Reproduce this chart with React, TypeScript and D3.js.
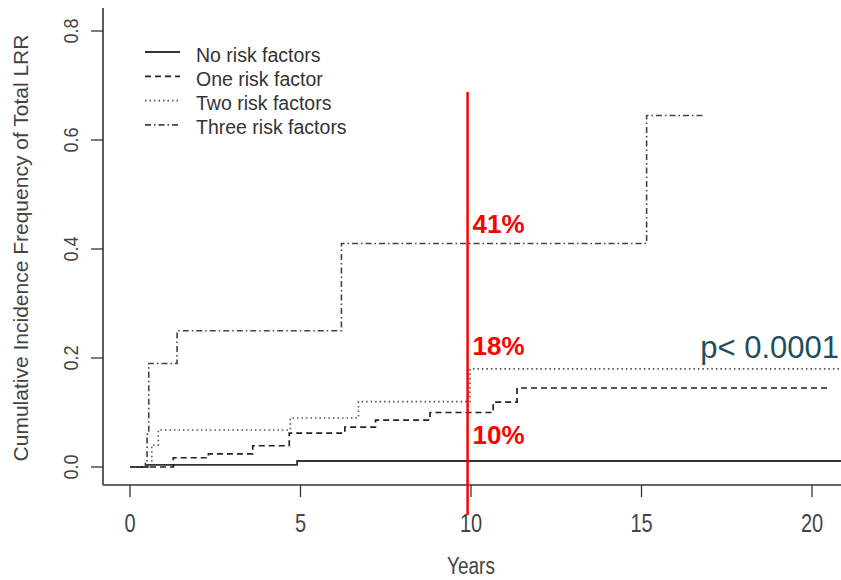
import * as d3 from "d3";
import React, { useRef, useEffect } from "react";

// step curves: [year, cumulative incidence]
const noRisk: [number, number][] = [
  [0, 0], [0.5, 0.004], [4.9, 0.011], [20.85, 0.011],
];
const oneRisk: [number, number][] = [
  [0, 0], [1.27, 0.017], [2.3, 0.024], [3.6, 0.039], [4.67, 0.062],
  [6.3, 0.073], [7.2, 0.086], [8.8, 0.1], [10.65, 0.119], [11.35, 0.145], [20.5, 0.145],
];
const twoRisk: [number, number][] = [
  [0, 0], [0.64, 0.04], [0.83, 0.068], [4.7, 0.09], [6.7, 0.12], [9.97, 0.18], [20.85, 0.18],
];
const threeRisk: [number, number][] = [
  [0, 0], [0.45, 0.01], [0.5, 0.06], [0.55, 0.19], [1.38, 0.25],
  [6.2, 0.41], [15.15, 0.645], [16.85, 0.645],
];

const legendLabels = ["No risk factors", "One risk factor", "Two risk factors", "Three risk factors"];
const xTicks = [0, 5, 10, 15, 20];
const yTicks = [0, 0.2, 0.4, 0.6, 0.8];
const cutoffYear = 9.9;
const cutoffLabels = ["41%", "18%", "10%"];

const App = () => {
  const ref = useRef<SVGSVGElement>(null);

  useEffect(() => {
    if (!ref.current) return;
    const W = 841;
    const H = 580;
    const svg = d3.select(ref.current).attr("width", W).attr("height", H);
    svg.selectAll("*").remove();

    const x = d3.scaleLinear().domain([0, 20]).range([130, 812]);
    const y = d3.scaleLinear().domain([0, 0.8]).range([467, 31]);
    const axisLeft = 103;
    const axisBottom = 485;
    const font = "Liberation Sans, Arial, sans-serif";
    const axisColor = "#444";

    // axis frame (L-shaped)
    svg.append("line")
      .attr("x1", axisLeft).attr("x2", axisLeft)
      .attr("y1", 8).attr("y2", axisBottom)
      .attr("stroke", "#333").attr("stroke-width", 1.6);
    svg.append("line")
      .attr("x1", axisLeft).attr("x2", W)
      .attr("y1", axisBottom).attr("y2", axisBottom)
      .attr("stroke", "#666").attr("stroke-width", 2);

    // y ticks
    yTicks.forEach((t) => {
      svg.append("line")
        .attr("x1", axisLeft - 12).attr("x2", axisLeft)
        .attr("y1", y(t)).attr("y2", y(t))
        .attr("stroke", "#333").attr("stroke-width", 1.3);
      svg.append("text")
        .attr("transform", `translate(78,${y(t)}) rotate(-90) scale(0.95,1.1)`)
        .attr("text-anchor", "middle")
        .attr("font-family", font)
        .attr("font-size", 19)
        .attr("fill", axisColor)
        .text(t.toFixed(1));
    });

    // x ticks (text is a bit tall and narrow in the original)
    xTicks.forEach((t) => {
      svg.append("line")
        .attr("x1", x(t)).attr("x2", x(t))
        .attr("y1", axisBottom).attr("y2", axisBottom + 12)
        .attr("stroke", "#333").attr("stroke-width", 1.3);
      svg.append("text")
        .attr("transform", `translate(${x(t)},532) scale(1,1.25)`)
        .attr("text-anchor", "middle")
        .attr("font-family", font)
        .attr("font-size", 20)
        .attr("fill", axisColor)
        .text(t);
    });

    // axis titles
    svg.append("text")
      .attr("transform", "translate(471,574) scale(1,1.22)")
      .attr("text-anchor", "middle")
      .attr("font-family", font)
      .attr("font-size", 19)
      .attr("fill", axisColor)
      .text("Years");
    svg.append("text")
      .attr("transform", "translate(28,248) rotate(-90)")
      .attr("text-anchor", "middle")
      .attr("font-family", font)
      .attr("font-size", 21)
      .attr("fill", axisColor)
      .text("Cumulative Incidence Frequency of Total LRR");

    const line = d3.line<[number, number]>()
      .x((d) => x(d[0]))
      .y((d) => y(d[1]))
      .curve(d3.curveStepAfter);

    const series = [
      { data: noRisk, color: "#333", width: 1.8, dash: null },
      { data: oneRisk, color: "#222", width: 1.7, dash: "6,4" },
      { data: twoRisk, color: "#555", width: 1.6, dash: "1.5,3" },
      { data: threeRisk, color: "#444", width: 1.6, dash: "6,3,1.5,3" },
    ];

    series.forEach((s) => {
      svg.append("path")
        .datum(s.data)
        .attr("fill", "none")
        .attr("stroke", s.color)
        .attr("stroke-width", s.width)
        .attr("stroke-dasharray", s.dash)
        .attr("d", line);
    });

    // legend
    const legend = svg.selectAll(".legend")
      .data(legendLabels)
      .enter()
      .append("g")
      .attr("class", "legend")
      .attr("transform", (d, i) => `translate(0,${52 + i * 24.3})`);
    legend.append("line")
      .attr("x1", 145).attr("x2", 180)
      .attr("y1", 0).attr("y2", 0)
      .attr("stroke", (d, i) => series[i].color)
      .attr("stroke-width", (d, i) => series[i].width)
      .attr("stroke-dasharray", (d, i) => series[i].dash);
    legend.append("text")
      .attr("x", 196).attr("y", 9.5)
      .attr("font-family", font)
      .attr("font-size", 19.5)
      .attr("fill", "#333")
      .text((d) => d);

    // 10-year cutoff
    svg.append("line")
      .attr("x1", x(cutoffYear)).attr("x2", x(cutoffYear))
      .attr("y1", 92).attr("y2", 515)
      .attr("stroke", "#f00").attr("stroke-width", 2.5);
    const labelBaselines = [233, 355, 444];
    cutoffLabels.forEach((l, i) => {
      svg.append("text")
        .attr("x", x(cutoffYear) + 5).attr("y", labelBaselines[i])
        .attr("font-family", font)
        .attr("font-weight", "bold")
        .attr("font-size", 26)
        .attr("fill", "#f00")
        .text(l);
    });

    svg.append("text")
      .attr("x", 839).attr("y", 358)
      .attr("text-anchor", "end")
      .attr("font-family", font)
      .attr("font-size", 31)
      .attr("fill", "#1f4e5f")
      .text("p< 0.0001");
  }, []);

  return <svg ref={ref} style={{ position: "absolute", left: 0, top: 0, background: "#fff" }} />;
};

export default App;
